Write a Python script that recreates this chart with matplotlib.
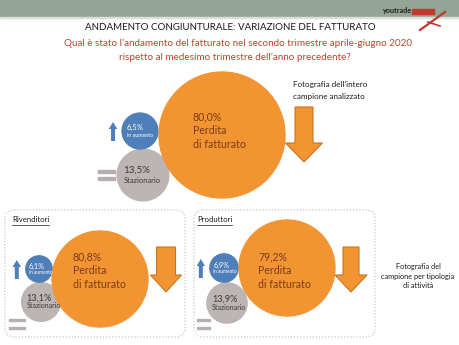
import matplotlib
matplotlib.use("Agg")
import matplotlib.pyplot as plt
from matplotlib.patches import Circle, FancyArrow, FancyBboxPatch, Rectangle
import numpy as np

plt.rcParams["font.family"] = ["Lato", "DejaVu Sans"]

# data
panels = ["Totale", "Rivenditori", "Produttori"]
perdita = [80.0, 80.8, 79.2]
aumento = [6.5, 6.1, 6.9]
stazionario = [13.5, 13.1, 13.9]

title = "ANDAMENTO CONGIUNTURALE: VARIAZIONE DEL FATTURATO"
subtitle = ["Qual è stato l\u2019andamento del fatturato nel secondo trimestre aprile-giugno 2020",
            "rispetto al medesimo trimestre dell\u2019anno precedente?"]

ORANGE = "#f39433"
ORANGE_EDGE = "#c8741f"
BLUE = "#4f7fb8"
GREY = "#bdb5b3"
EQ_GREY = "#b8aeae"
BROWN = "#7a3d12"

# layout (pixel space of a 460x345 slide)
layout = {
    "Totale": dict(center=(222, 135), scale=63, small_font=5.0,
                   blue_dx=-82, blue_dy=-4, grey_dx=-79, grey_dy=40,
                   text=(193, 117), eq=(98, 175, 17, 7),
                   arrow_x=304, arrow_top=107, arrow_len=55, arrow_w=18, head_w=37, head_l=19),
    "Rivenditori": dict(center=(100, 279), scale=48, small_font=4.6,
                        blue_dx=-61, blue_dy=-10, grey_dx=-59, grey_dy=23,
                        text=(73, 257), eq=(9, 324, 16, 8),
                        arrow_x=166, arrow_top=247, arrow_len=45, arrow_w=19, head_w=31, head_l=17),
    "Produttori": dict(center=(287, 268), scale=48, small_font=4.6,
                       blue_dx=-63, blue_dy=0, grey_dx=-60, grey_dy=35,
                       text=(258, 257), eq=(197, 324, 13, 8),
                       arrow_x=351, arrow_top=247, arrow_len=45, arrow_w=16, head_w=32, head_l=17),
}

fig = plt.figure(figsize=(4.6, 3.45), dpi=100)
ax = fig.add_axes([0, 0, 1, 1])
ax.set_xlim(0, 460)
ax.set_ylim(345, 0)
ax.set_aspect("equal")
ax.axis("off")

# header band
ax.add_patch(Rectangle((0, 0), 460, 17, color="#93a596", zorder=0))
ax.add_patch(Rectangle((0, 17), 460, 1.2, color="#d9e0da", zorder=0))
ax.text(398, 13.5, "youtrade", fontsize=5.2, fontweight="bold", color="#222222",
        ha="center", va="bottom", zorder=3)
ax.add_patch(Rectangle((412, 9), 22, 5, color="#c0392b", zorder=3))
ax.plot([420, 445], [30, 12], color="#c0392b", lw=1.6, zorder=3)
ax.plot([428, 440], [22, 26], color="#c0392b", lw=1.2, zorder=3)

ax.text(230, 28, title, fontsize=7.0, color="#1a1a1a", ha="center", va="center")
ax.text(238, 43, subtitle[0], fontsize=7.1, color="#b9472a", ha="center", va="center")
ax.text(235, 57, subtitle[1], fontsize=7.1, color="#b9472a", ha="center", va="center")

# dotted frames around the two sub-samples
for x0, x1 in [(5, 185), (194, 375)]:
    ax.add_patch(FancyBboxPatch((x0, 210), x1 - x0, 127,
                                boxstyle="round,pad=0,rounding_size=9",
                                fill=False, ec="#c8c8c8", lw=0.9, ls=(0, (1, 1.5))))

label_texts = []
for name, lx in [("Rivenditori", 12), ("Produttori", 197)]:
    label_texts.append(ax.text(lx, 220, name, fontsize=5.6, color="#1a1a1a",
                               ha="left", va="center"))

ax.text(293, 85, "Fotografia dell\u2019intero", fontsize=5.8, color="#1a1a1a", va="center")
ax.text(293, 96, "campione analizzato", fontsize=5.8, color="#1a1a1a", va="center")
ax.text(418, 276, "Fotografia del\ncampione per tipologia\ndi attivit\u00e0",
        fontsize=5.3, color="#1a1a1a", ha="center", va="center", linespacing=1.35)

for i, name in enumerate(panels):
    L = layout[name]
    cx, cy = L["center"]
    k = L["scale"] / np.sqrt(perdita[i])
    r_big = k * np.sqrt(perdita[i])
    r_blue = k * np.sqrt(aumento[i])
    r_grey = k * np.sqrt(stazionario[i])

    bx, by = cx + L["blue_dx"], cy + L["blue_dy"]
    gx, gy = cx + L["grey_dx"], cy + L["grey_dy"]

    ax.add_patch(Circle((gx, gy), r_grey, color=GREY, zorder=2))
    ax.add_patch(Circle((bx, by), r_blue, color=BLUE, zorder=2))
    ax.add_patch(Circle((cx, cy), r_big, color=ORANGE, zorder=3))

    # text in the big circle
    tx, ty = L["text"]
    lines = [f"{perdita[i]:.1f}%".replace(".", ","), "Perdita", "di fatturato"]
    for j, s in enumerate(lines):
        ax.text(tx, ty + 14 * j, s, fontsize=7.6, color=BROWN, va="center", zorder=4)

    # small circles
    sf = L["small_font"]
    ax.text(bx - r_blue * 0.75, by - r_blue * 0.2, f"{aumento[i]:.1f}%".replace(".", ","),
            fontsize=sf + 0.6, color="white", va="center", zorder=4)
    ax.text(bx - r_blue * 0.75, by + r_blue * 0.25, "in aumento",
            fontsize=sf - 1.2, color="white", va="center", zorder=4)
    ax.text(gx - r_grey * 0.75, gy - r_grey * 0.18, f"{stazionario[i]:.1f}%".replace(".", ","),
            fontsize=sf + 2.0, color="#3a3a3a", va="center", zorder=4)
    ax.text(gx - r_grey * 0.75, gy + r_grey * 0.2, "Stazionario",
            fontsize=sf + 0.4, color="#3a3a3a", va="center", zorder=4)

    # blue "up" arrow next to the blue circle
    ux = bx - r_blue - 9
    ax.add_patch(FancyArrow(ux, by + 10, 0, -19, width=4, head_width=8.5, head_length=7,
                            length_includes_head=True, color=BLUE, lw=0, zorder=2))

    # grey "=" sign
    ex, ey, ew, egap = L["eq"]
    for dy in (-egap / 2, egap / 2):
        ax.add_patch(Rectangle((ex, ey + dy - 1.4), ew, 2.8, color=EQ_GREY, zorder=1))

    # orange "down" arrow
    ax.add_patch(FancyArrow(L["arrow_x"], L["arrow_top"], 0, L["arrow_len"],
                            width=L["arrow_w"], head_width=L["head_w"], head_length=L["head_l"],
                            length_includes_head=True, fc=ORANGE, ec=ORANGE_EDGE, lw=0.8, zorder=3))

# underline the panel labels
fig.canvas.draw()
inv = ax.transData.inverted()
for t in label_texts:
    bb = t.get_window_extent()
    (x0, _), (x1, _) = inv.transform([[bb.x0, bb.y0], [bb.x1, bb.y0]])
    ax.plot([x0, x1], [224.5, 224.5], color="#1a1a1a", lw=0.5)

fig.savefig("out.png", dpi=100)
